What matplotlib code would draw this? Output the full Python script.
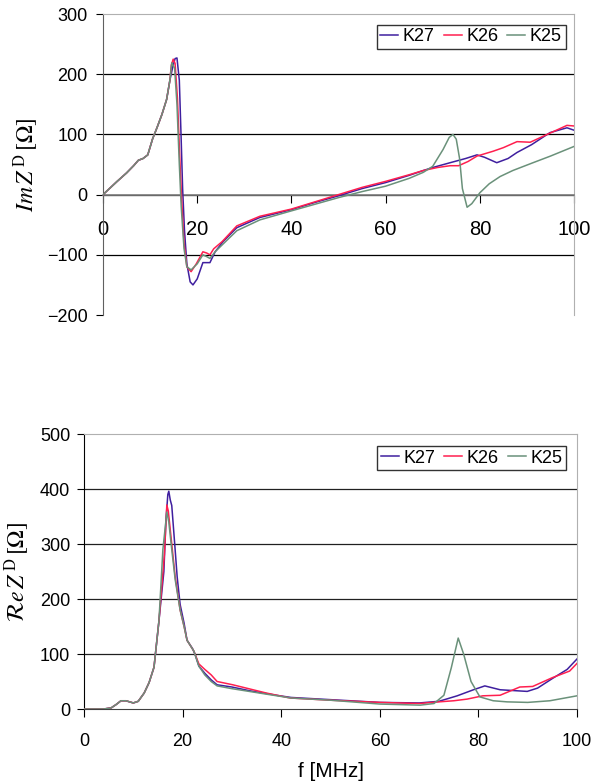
import matplotlib
matplotlib.use("Agg")
import matplotlib.pyplot as plt

plt.rcParams["font.family"] = ["Liberation Sans", "DejaVu Sans"]
plt.rcParams["mathtext.fontset"] = "stix"

series = ["K27", "K26", "K25"]
colors = ["#3f1f9f", "#ff1f4f", "#6a917a"]

# --- Im Z^D (top panel) ---
im_f_start = [0, 3, 5, 6.5, 7.5, 8.5, 9.5, 10.5, 11.5, 12.5, 13.5, 14.2]
im_v_start = [0, 22, 36, 48, 57, 60, 66, 92, 112, 133, 158, 190]

im_f_k27 = [14.8, 15.3, 15.7, 16.2, 16.6, 16.9, 17.3, 17.8, 18.5, 19.1, 20.0, 21.2, 22.7,
            23.8, 25.5, 28.4, 33.3, 40, 45, 50, 55, 60, 65, 68, 70, 73.7, 77, 79.4, 81,
            83.6, 86, 87.9, 91, 94.9, 98.5, 100]
im_v_k27 = [212, 226, 227, 190, 90, 10, -60, -115, -145, -150, -140, -113, -113,
            -95, -78, -55, -38, -25, -13, -2, 10, 20, 32, 40, 45, 53, 60, 66, 62,
            53, 60, 70, 83, 103, 111, 107]

im_f_k26 = [14.5, 14.9, 15.3, 15.8, 16.3, 16.7, 17.2, 17.8, 18.7, 19.8, 21.2, 22.0, 22.7,
            23.5, 25.3, 28.4, 33.3, 40, 45, 50, 55, 60, 65, 68, 71, 73.7, 75.5, 77.5,
            79.4, 82.8, 85, 87.9, 90.7, 94.3, 98.5, 100]
im_v_k26 = [215, 225, 218, 160, 60, -10, -80, -120, -128, -115, -95, -97, -100,
            -90, -78, -52, -36, -24, -12, 0, 12, 22, 33, 40, 45, 48, 48, 55,
            64, 72, 78, 88, 87, 100, 115, 114]

im_f_k25 = [14.6, 15.2, 15.7, 16.2, 16.6, 17.2, 17.8, 18.7, 20.0, 21.2, 22.0, 22.7, 23.8,
            25.5, 28.4, 33.3, 40, 45, 50, 55, 60, 65, 68, 70, 72.2, 73.5, 74.3, 75.0,
            75.7, 76.3, 77.3, 78.3, 80, 82, 84.3, 87, 91.3, 95, 100]
im_v_k25 = [219, 210, 150, 50, -20, -90, -120, -125, -115, -100, -103, -106, -95,
            -82, -60, -42, -27, -16, -5, 5, 14, 27, 37, 47, 75, 95, 100, 92,
            60, 10, -21, -15, 3, 18, 30, 40, 53, 64, 80]

# --- Re Z^D (bottom panel) ---
re_f_start = [0, 4, 5.5, 6.5, 7.5, 8.5, 10, 11, 12.2, 13.2, 14.2, 15.2]
re_v_start = [0, 0, 2, 8, 15, 15, 11, 14, 29, 48, 76, 160]

re_f_k27 = [16.2, 16.6, 17.0, 17.2, 17.5, 17.8, 18.4, 18.9, 19.5, 20.3, 20.9, 22.0, 22.5,
            23.3, 24.5, 25.8, 27, 30, 33.7, 39, 42, 50, 60, 68, 72, 75.7, 79, 81.3,
            84.4, 89.9, 92, 95.1, 98, 100]
re_v_k27 = [250, 340, 390, 396, 380, 370, 300, 240, 190, 156, 125, 110, 100,
            78, 65, 53, 44, 40, 33, 25, 21, 17, 12, 11, 14, 24, 35, 42,
            35, 32, 38, 56, 72, 91]

re_f_k26 = [16.3, 16.8, 17.1, 17.8, 18.5, 19.5, 20.3, 20.9, 22.3, 23.3, 24.5, 25.8, 27,
            30.2, 37, 41.8, 50, 60, 68, 72, 75, 77.7, 80.9, 84.4, 88.4, 91, 95,
            98.5, 100]
re_v_k26 = [280, 371, 360, 300, 240, 180, 150, 125, 105, 82, 72, 62, 50,
            44, 29, 20, 16, 12, 10, 13, 15, 18, 24, 25, 40, 41, 57,
            69, 83]

re_f_k25 = [16.0, 16.8, 17.2, 17.8, 18.5, 19.5, 20.3, 20.9, 22.3, 23.3, 24.5, 25.8, 27,
            30, 37, 42, 50, 60, 68.2, 71, 73, 74.5, 75.9, 77, 78.5, 80.3, 83, 85.8,
            90, 94.5, 100]
re_v_k25 = [290, 358, 340, 290, 235, 180, 150, 125, 105, 78, 62, 50, 42,
            37, 27, 20, 16, 9, 7, 10, 25, 75, 129, 100, 50, 22, 15, 13,
            12, 15, 24]

im_f = [im_f_start + im_f_k27, im_f_start + im_f_k26, im_f_start + im_f_k25]
im_v = [im_v_start + im_v_k27, im_v_start + im_v_k26, im_v_start + im_v_k25]
re_f = [re_f_start + re_f_k27, re_f_start + re_f_k26, re_f_start + re_f_k25]
re_v = [re_v_start + re_v_k27, re_v_start + re_v_k26, re_v_start + re_v_k25]

fig = plt.figure(figsize=(6.0, 7.83), dpi=100)
ax1 = fig.add_axes([0.1717, 0.5977, 0.785, 0.3844])
ax2 = fig.add_axes([0.14, 0.0945, 0.8217, 0.3512])

leg_kw = dict(loc="upper right", ncol=3, fontsize=13, frameon=True, fancybox=False,
              edgecolor="black", handlelength=1.0, handletextpad=0.25, columnspacing=0.5,
              borderpad=0.2, borderaxespad=0.0)

# top panel
for f, v, c, name in zip(im_f, im_v, colors, series):
    ax1.plot(f, v, color=c, lw=1.1, label=name, zorder=3)
ax1.set_xlim(0, 100)
ax1.set_ylim(-200, 300)
ax1.set_yticks(range(-200, 301, 100))
ax1.set_xticks(range(0, 101, 20))
ax1.spines["bottom"].set_position(("data", 0))
ax1.spines["bottom"].set_color("#808080")
ax1.spines["bottom"].set_linewidth(1.2)
ax1.spines["left"].set_color("#606060")
for s in ["top", "right"]:
    ax1.spines[s].set_color("#b0b0b0")
ax1.yaxis.grid(True, color="black", lw=0.9)
gl = ax1.yaxis.get_gridlines()
gl[0].set_visible(False)
gl[-1].set_visible(False)
ax1.set_axisbelow(True)
ax1.tick_params(axis="x", direction="out", length=6, pad=12, labelsize=14.5)
ax1.tick_params(axis="y", direction="out", length=5, pad=6, labelsize=13)
ax1.set_ylabel(r"$Im\,Z^{\,\mathrm{D}}\,[\Omega]$", fontsize=17, labelpad=4)
ax1.legend(bbox_to_anchor=(0.982, 0.964), **leg_kw).get_frame().set_linewidth(1.0)

# bottom panel
for f, v, c, name in zip(re_f, re_v, colors, series):
    ax2.plot(f, v, color=c, lw=1.1, label=name, zorder=3)
ax2.set_xlim(0, 100)
ax2.set_ylim(0, 500)
ax2.set_yticks(range(0, 501, 100))
ax2.set_xticks(range(0, 101, 20))
ax2.spines["bottom"].set_color("#404040")
ax2.spines["left"].set_color("black")
for s in ["top", "right"]:
    ax2.spines[s].set_color("#b0b0b0")
ax2.yaxis.grid(True, color="#202020", lw=0.9)
gl = ax2.yaxis.get_gridlines()
gl[0].set_visible(False)
gl[-1].set_visible(False)
ax2.set_axisbelow(True)
ax2.tick_params(axis="x", direction="out", length=6, pad=11, labelsize=13)
ax2.tick_params(axis="y", direction="out", length=5, pad=5, labelsize=13)
ax2.set_ylabel(r"$\mathcal{R}e\,Z^{\,\mathrm{D}}\,[\Omega]$", fontsize=17, labelpad=6)
ax2.set_xlabel("f [MHz]", fontsize=15, labelpad=9)
ax2.legend(bbox_to_anchor=(0.978, 0.956), **leg_kw).get_frame().set_linewidth(1.0)

fig.savefig("out.png", dpi=100)
